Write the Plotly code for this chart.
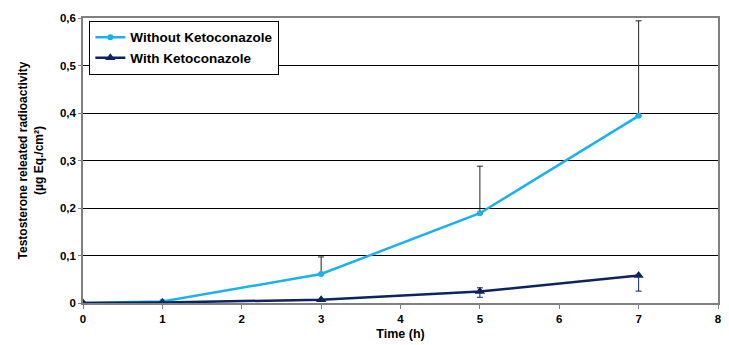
import plotly.graph_objects as go

time_h = [0, 1, 3, 5, 7]
without_keto = [0.0, 0.003, 0.061, 0.189, 0.394]
without_err_plus = [0, 0, 0.036, 0.099, 0.200]
with_keto = [0.0, 0.001, 0.007, 0.024, 0.058]
with_err_plus = [0, 0, 0, 0.008, 0.0]
with_err_minus = [0, 0, 0, 0.012, 0.033]

x_ticks = [0, 1, 2, 3, 4, 5, 6, 7, 8]
y_ticks = [0, 0.1, 0.2, 0.3, 0.4, 0.5, 0.6]
y_tick_text = ["0", "0,1", "0,2", "0,3", "0,4", "0,5", "0,6"]

font = "Liberation Sans, Arial, sans-serif"

fig = go.Figure()
fig.add_trace(go.Scatter(
    x=time_h, y=without_keto, mode="lines+markers", name="<b>Without Ketoconazole</b>",
    line=dict(color="#1AB2EE", width=2.5), marker=dict(symbol="circle", size=6, color="#1AB2EE"),
    error_y=dict(type="data", array=without_err_plus, arrayminus=[0]*5, symmetric=False,
                 color="#222222", thickness=1, width=3),
))
fig.add_trace(go.Scatter(
    x=time_h, y=with_keto, mode="lines+markers", name="<b>With Ketoconazole</b>",
    line=dict(color="#0D2462", width=2.5), marker=dict(symbol="triangle-up", size=9, color="#0D2462"),
    error_y=dict(type="data", array=with_err_plus, arrayminus=with_err_minus, symmetric=False,
                 color="#0D2462", thickness=1, width=3),
))

# page body has an 8px margin: figure is sized/offset to compensate
fig.update_layout(
    width=721, height=337,
    margin=dict(l=75, r=11, t=10, b=42),
    paper_bgcolor="white", plot_bgcolor="white",
    font=dict(family=font, size=11, color="black"),
    showlegend=True,
    legend=dict(x=0.01, y=0.99, xanchor="left", yanchor="top",
                bordercolor="black", borderwidth=1, bgcolor="white",
                font=dict(family=font, size=13.5, color="black"),
                tracegroupgap=0, itemwidth=30),
    xaxis=dict(range=[0, 8], tickmode="array", tickvals=x_ticks, ticktext=["<b>%d</b>" % v for v in x_ticks],
               showgrid=False, zeroline=False, showline=True, linecolor="#808080", linewidth=1.5,
               mirror=True, ticks="outside", ticklen=4, tickcolor="#808080", automargin=False,
               tickfont=dict(family=font, size=11.5, color="black"),
               title=dict(text="<b>Time (h)</b>", font=dict(family=font, size=12.5), standoff=6)),
    yaxis=dict(range=[0, 0.6], tickmode="array", tickvals=y_ticks, ticktext=["<b>%s</b>" % t for t in y_tick_text],
               showgrid=True, gridcolor="black", gridwidth=1, zeroline=False,
               showline=True, linecolor="#808080", linewidth=1.5, mirror=True,
               ticks="outside", ticklen=3, tickcolor="#808080", automargin=False,
               tickfont=dict(family=font, size=11.5, color="black"),
               title=dict(text="<b>Testosterone releated radioactivity<br>(µg Eq./cm²)</b>",
                          font=dict(family=font, size=12), standoff=14)),
)

fig.write_html("out.html")
